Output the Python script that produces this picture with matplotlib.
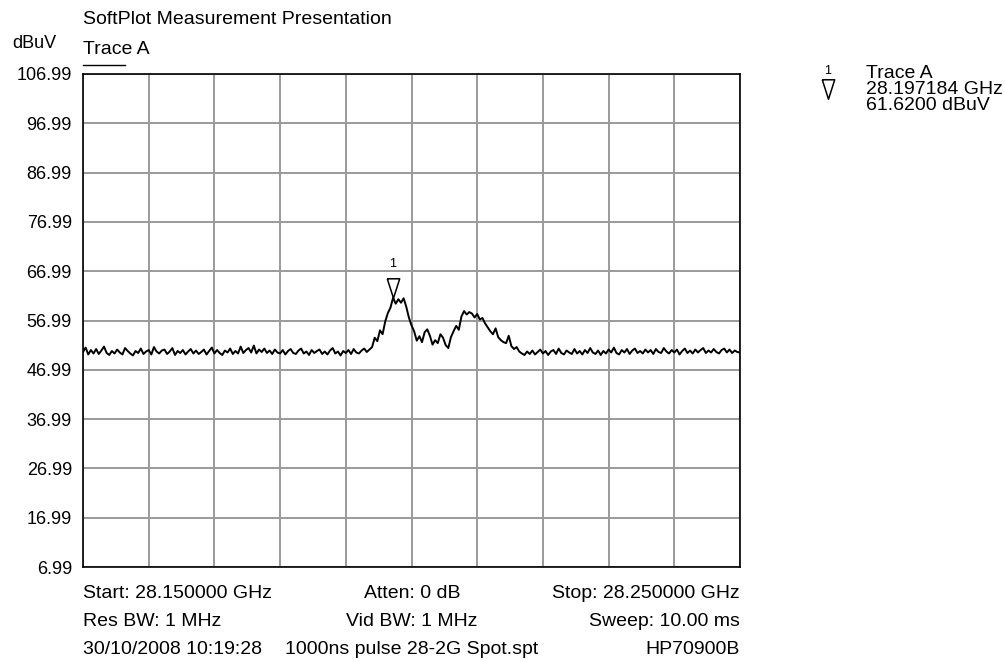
import numpy as np
import matplotlib
matplotlib.use("Agg")
import matplotlib.pyplot as plt
import matplotlib.transforms as mtransforms

plt.rcParams["font.family"] = ["Liberation Sans", "DejaVu Sans"]

# sweep settings
F_START, F_STOP = 28.150, 28.250   # GHz
REF_LEVEL, DB_PER_DIV = 106.99, 10.0
MARKER_F, MARKER_LVL = 28.197184, 61.62

# trace A, dBuV
trace_a = [
    50.6, 51.5, 50.1, 51.0, 50.3, 51.2, 50.2, 50.9, 51.7, 50.4,
    50.0, 50.8, 50.3, 51.1, 50.5, 50.1, 51.4, 50.8, 50.3, 49.9,
    50.8, 50.4, 51.3, 50.2, 50.7, 51.0, 50.1, 51.6, 50.7, 50.3,
    50.9, 51.1, 50.2, 50.7, 51.4, 50.0, 50.8, 50.4, 51.0, 50.1,
    50.7, 51.2, 50.3, 50.9, 50.2, 50.6, 51.1, 50.1, 50.8, 51.5,
    50.3, 51.0, 50.4, 50.0, 50.9, 50.5, 51.3, 50.2, 50.8, 50.3,
    51.7, 50.4, 51.0, 51.4, 50.5, 51.9, 50.3, 51.1, 50.6, 51.3,
    50.4, 50.9, 50.2, 51.1, 50.5, 50.3, 51.0, 50.1, 50.8, 51.2,
    50.4, 50.2, 50.9, 51.3, 50.3, 50.7, 50.0, 51.0, 50.4, 50.8,
    51.1, 50.2, 50.7, 50.1, 50.9, 51.4, 50.3, 50.7, 49.9, 50.8,
    50.4, 51.0, 50.2, 51.2, 50.5, 50.3, 50.9, 51.3, 50.6, 51.1,
    51.6,
    53.5, 52.8, 55.0, 54.2, 56.8, 58.5, 59.6, 61.62, 60.4, 61.3,
    60.6, 61.5, 59.8, 57.6, 56.0, 54.8, 52.9, 53.8, 52.6, 54.6,
    55.2, 53.9, 52.1, 53.0, 52.4, 54.2, 53.5, 52.0, 51.4, 53.6,
    54.8, 55.9, 55.1, 57.8, 58.9, 58.2, 58.7, 58.4, 57.6, 58.3,
    57.2, 57.5, 56.4, 55.6, 54.8, 54.2, 55.4, 53.6, 53.0, 52.6,
    52.4, 53.9, 51.8, 51.2, 51.6, 50.7,
    50.3, 50.0, 50.7, 50.2, 50.9, 50.1, 50.6, 51.1, 50.3, 50.8,
    50.0, 50.7, 51.0, 50.2, 51.3, 50.4, 50.1, 50.9, 50.5, 50.2,
    51.2, 50.3, 50.8, 50.1, 51.0, 50.4, 51.4, 50.5, 50.2, 50.9,
    50.0, 50.8, 50.3, 51.1, 50.5, 51.5, 50.4, 50.1, 51.0, 50.5,
    51.2, 50.2, 50.9, 51.3, 50.4, 50.8, 50.3, 51.1, 50.5, 51.0,
    50.2, 51.2, 50.6, 50.4, 51.4, 50.7, 50.3, 51.0, 50.5, 51.1,
    50.1, 50.8, 51.3, 50.4, 50.9, 50.3, 51.1, 50.5, 51.0, 51.4,
    50.4, 50.9, 50.5, 51.2, 50.6, 50.3, 51.0, 51.3, 50.5, 51.1,
    50.4, 50.9, 50.6, 50.5,
]
freq = np.linspace(F_START, F_STOP, len(trace_a))

y_ticks = [REF_LEVEL - DB_PER_DIV * k for k in range(11)]
y_labels = [f"{v:.2f}" for v in y_ticks]

footer = [
    ("Start: 28.150000 GHz", "Atten: 0 dB", "Stop: 28.250000 GHz"),
    ("Res BW: 1 MHz", "Vid BW: 1 MHz", "Sweep: 10.00 ms"),
    ("30/10/2008 10:19:28", "1000ns pulse 28-2G Spot.spt", "HP70900B"),
]

W, H = 1005, 662
FS = 14
fig = plt.figure(figsize=(W / 100, H / 100), dpi=100)
L, R, T, B = 83, 740, 74, 567
ax = fig.add_axes([L / W, 1 - B / H, (R - L) / W, (B - T) / H])

ax.plot(freq, trace_a, color="black", lw=1.4, zorder=3)
ax.set_xlim(F_START, F_STOP)
ax.set_ylim(y_ticks[-1], y_ticks[0])
ax.set_xticks(np.linspace(F_START, F_STOP, 11))
ax.set_xticklabels([])
ax.set_yticks(y_ticks)
ax.set_yticklabels(y_labels, fontsize=13)
ax.tick_params(length=0, pad=8)
ax.grid(True, color="#9a9a9a", lw=1.4)
for s in ax.spines.values():
    s.set_linewidth(1.2)
    s.set_color("black")

# marker 1, drawn just above the trace
tri = [(-0.32, 0.5), (0.32, 0.5), (0.0, -0.5), (-0.32, 0.5)]
off = mtransforms.offset_copy(ax.transData, fig=fig, x=0, y=10, units="dots")
ax.plot([MARKER_F], [MARKER_LVL], marker=tri, ms=14, mfc="white", mec="black",
        mew=1.1, transform=off, zorder=4, clip_on=False)
off_txt = mtransforms.offset_copy(ax.transData, fig=fig, x=0, y=34, units="dots")
ax.text(MARKER_F, MARKER_LVL, "1", transform=off_txt, ha="center", va="center",
        fontsize=9)

def fx(px): return px / W
def fy(py): return 1 - py / H

fig.text(fx(83), fy(20), "SoftPlot Measurement Presentation", fontsize=FS, va="center")
fig.text(fx(12), fy(43), "dBuV", fontsize=13, va="center")
fig.text(fx(83), fy(50), "Trace A", fontsize=FS, va="center")
fig.add_artist(plt.Line2D([fx(83), fx(125)], [fy(65), fy(65)], color="black", lw=1))

# marker readout on the right
fig.text(fx(828), fy(71), "1", fontsize=9, ha="center", va="center")
fig.add_artist(plt.Line2D([fx(828)], [fy(89)], marker=tri, ms=14, mfc="white",
                          mec="black", mew=1.1))
fig.text(fx(866), fy(74), "Trace A", fontsize=FS, va="center")
fig.text(fx(866), fy(90), f"{MARKER_F:.6f} GHz", fontsize=FS, va="center")
fig.text(fx(866), fy(106), f"{MARKER_LVL:.4f} dBuV", fontsize=FS, va="center")

for row, (lt, ct, rt) in zip([594, 622, 650], footer):
    fig.text(fx(83), fy(row), lt, fontsize=FS, va="center", ha="left")
    fig.text(fx(412), fy(row), ct, fontsize=FS, va="center", ha="center")
    fig.text(fx(740), fy(row), rt, fontsize=FS, va="center", ha="right")

fig.savefig("out.png", dpi=100)
